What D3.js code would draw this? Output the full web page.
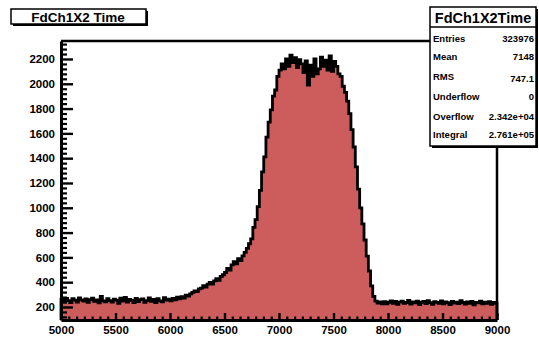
<!DOCTYPE html>
<html>
<head>
<meta charset="utf-8">
<script src="https://cdn.jsdelivr.net/npm/d3@7"></script>
<style>
  body { margin: 0; background: #fff; }
  svg text { font-family: "Liberation Sans", Arial, sans-serif; font-weight: bold; }
</style>
</head>
<body>
<div id="chart"></div>
<script>
// histogram binning: 200 bins of width 20 between 5000 and 9000
const binLow = 5000, binWidth = 20

// bin contents, in order
const counts = [
  262, 241, 270, 252, 236, 268, 255, 240, 274, 258,
  247, 265, 238, 260, 272, 245, 257, 233, 285, 250,
  242, 268, 251, 239, 263, 256, 229, 271, 248, 277,
  240, 262, 253, 235, 270, 244, 259, 266, 238, 252,
  273, 245, 261, 236, 268, 250, 242, 275, 255, 264,
  250, 270, 258, 279, 265, 284, 272, 295, 288, 305,
  318, 330, 325, 346, 352, 372, 361, 385, 398, 384, 410, 428, 415, 446, 460,
  478, 512, 498, 540, 566, 548, 590, 575, 612, 640,
  672, 710, 750, 842, 905, 1010, 1140, 1290, 1410, 1570, 1690, 1790, 1900, 1950, 2060,
  2110, 2160, 2120, 2200, 2140, 2230, 2170, 2210, 2130, 2195,
  2160, 2090, 2185, 1990, 2150, 2060, 2200, 2080, 2120, 2215,
  2140, 2190, 2110, 2225, 2100, 2180, 2140, 2080,
  2060, 1980, 1930, 1860, 1760, 1630, 1490, 1330, 1150, 1000,
  870, 740, 610, 490, 370, 285, 248, 232, 241, 226,
  242, 225, 238, 250, 229, 244, 221, 239, 248, 230,
  236, 253, 224, 241, 233, 247, 220, 238, 245, 228,
  251, 235, 222, 243, 237, 230, 249, 226, 240, 234,
  219, 246, 232, 239, 227, 252, 236, 223, 241, 230,
  244, 218, 237, 233, 248, 225, 239, 229, 242, 221,
  236, 230
]

const xTicks = [5000, 5500, 6000, 6500, 7000, 7500, 8000, 8500, 9000]
const yTicks = [200, 400, 600, 800, 1000, 1200, 1400, 1600, 1800, 2000, 2200]

const histTitle = "FdCh1X2 Time"
const statsTitle = "FdCh1X2Time"
const statNames = ["Entries", "Mean", "RMS", "Underflow", "Overflow", "Integral"]
const statValues = ["323976", "7148", "747.1", "0", "2.342e+04", "2.761e+05"]

const W = 539, H = 339
const frame = {left: 61, top: 41, right: 497, bottom: 320}

const svg = d3.select("#chart").append("svg")
  .attr("width", W).attr("height", H)

const x = d3.scaleLinear().domain([5000, 9000]).range([frame.left, frame.right])
const y = d3.scaleLinear().domain([95, 2345]).range([frame.bottom, frame.top])

// histogram as step outline
const bins = counts.map((c, i) => ({x0: binLow + i * binWidth, x1: binLow + (i + 1) * binWidth, c: c}))
let pts = [[x(binLow), y.range()[0]]]
bins.forEach(b => { pts.push([x(b.x0), y(b.c)]); pts.push([x(b.x1), y(b.c)]) })
pts.push([x(binLow + bins.length * binWidth), y.range()[0]])

svg.append("path")
  .attr("d", d3.line()(pts) + "Z")
  .attr("fill", "#cd5c5c")

svg.append("path")
  .attr("d", d3.line()(pts))
  .attr("fill", "none")
  .attr("stroke", "#000")
  .attr("stroke-width", 2.8)
  .attr("stroke-linejoin", "miter")

// frame top / right
svg.append("path")
  .attr("d", `M${frame.left},${frame.top}H${frame.right}V${frame.bottom}`)
  .attr("fill", "none").attr("stroke", "#000").attr("stroke-width", 2.5)

// minor ticks
const yMinor = d3.range(120, 2345, 40).filter(v => v % 200 !== 0)
const xMinor = d3.range(5000, 9000, 500 / 7).filter((v, i) => i % 7 !== 0)

svg.append("g")
  .attr("transform", `translate(${frame.left},0)`)
  .call(d3.axisLeft(y).tickValues(yMinor).tickSize(-6).tickFormat(""))
  .call(g => g.select(".domain").remove())
  .call(g => g.selectAll("line").attr("stroke-width", 2.2))

svg.append("g")
  .attr("transform", `translate(0,${frame.bottom})`)
  .call(d3.axisBottom(x).tickValues(xMinor).tickSize(-3.5).tickFormat(""))
  .call(g => g.select(".domain").remove())
  .call(g => g.selectAll("line").attr("stroke-width", 2.2))

// y axis
svg.append("g")
  .attr("transform", `translate(${frame.left},0)`)
  .call(d3.axisLeft(y).tickValues(yTicks).tickSize(-12).tickSizeOuter(0).tickPadding(6)
    .tickFormat(d3.format("d")))
  .call(g => g.select(".domain").attr("stroke-width", 3))
  .call(g => g.selectAll(".tick line").attr("stroke-width", 2.4))
  .call(g => g.selectAll("text").attr("font-size", 11.5).attr("fill", "#000")
    .attr("font-family", "Liberation Sans, Arial, sans-serif").attr("font-weight", "bold"))

// x axis
svg.append("g")
  .attr("transform", `translate(0,${frame.bottom})`)
  .call(d3.axisBottom(x).tickValues(xTicks).tickSize(-7).tickSizeOuter(0).tickPadding(4)
    .tickFormat(d3.format("d")))
  .call(g => g.select(".domain").attr("stroke-width", 3))
  .call(g => g.selectAll(".tick line").attr("stroke-width", 2.4))
  .call(g => g.selectAll("text").attr("font-size", 11.5).attr("fill", "#000")
    .attr("font-family", "Liberation Sans, Arial, sans-serif").attr("font-weight", "bold")
    .attr("dy", "0.9em"))

// box with ROOT-style shadow
function shadowBox(x0, y0, x1, y1) {
  svg.append("rect").attr("x", x0 + 2).attr("y", y0 + 2)
    .attr("width", x1 - x0).attr("height", y1 - y0).attr("fill", "#000")
  svg.append("rect").attr("x", x0).attr("y", y0)
    .attr("width", x1 - x0).attr("height", y1 - y0)
    .attr("fill", "#fff").attr("stroke", "#000").attr("stroke-width", 1.5)
}

// title
shadowBox(11, 9, 146, 24)
svg.append("text").attr("x", 78).attr("y", 21.5)
  .attr("text-anchor", "middle").attr("font-size", 13.5).text(histTitle)

// stats box
shadowBox(430, 7, 536, 146)
svg.append("line").attr("x1", 430).attr("x2", 536).attr("y1", 27).attr("y2", 27)
  .attr("stroke", "#000").attr("stroke-width", 1.5)
svg.append("text").attr("x", 483).attr("y", 23)
  .attr("text-anchor", "middle").attr("font-size", 14.5).text(statsTitle)

const rowY = [42, 60, 80, 100, 120, 138]
statNames.forEach((n, i) => {
  svg.append("text").attr("x", 433).attr("y", rowY[i])
    .attr("font-size", 9.5).text(n)
  svg.append("text").attr("x", 534).attr("y", rowY[i] + (i === 2 ? 2 : 0))
    .attr("text-anchor", "end").attr("font-size", 9.5).text(statValues[i])
})
</script>
</body>
</html>
